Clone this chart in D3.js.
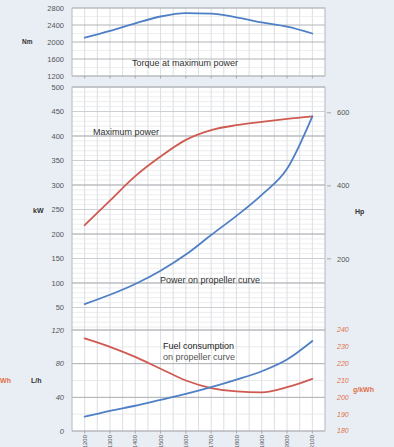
<!DOCTYPE html>
<html>
<head>
<meta charset="utf-8">
<script src="https://cdn.jsdelivr.net/npm/d3@7"></script>
<style>
  html, body { margin: 0; padding: 0; background: #e9eef4; }
  svg { display: block; font-family: "Liberation Sans", Arial, sans-serif; }
</style>
</head>
<body>
<svg id="chart" width="394" height="447"></svg>
<script>
// Engine speed (rpm)
const rpm = [1200, 1300, 1400, 1500, 1600, 1700, 1800, 1900, 2000, 2100];
// Torque at maximum power (Nm)
const torqueNm = [2100, 2260, 2440, 2600, 2680, 2670, 2580, 2460, 2360, 2200];
// Maximum power (kW)
const maxPowerKw = [218, 268, 318, 358, 392, 412, 422, 429, 435, 440];
// Power on propeller curve (kW)
const propPowerKw = [57, 76, 98, 125, 158, 198, 237, 280, 333, 440];
// Fuel consumption on propeller curve (L/h)
const fuelLh = [17, 24, 30, 37, 44, 52, 61, 71, 85, 107];
// Specific fuel consumption (g/kWh)
const sfcGkwh = [235, 230, 224, 217, 210, 205.5, 203.5, 203, 206, 211];

// Tick values
const torqueTicks = [1200, 1600, 2000, 2400, 2800];
const kwTicks = [50, 100, 150, 200, 250, 300, 350, 400, 450, 500];
const hpTicks = [200, 400, 600];
const fuelTicks = [0, 40, 80, 120];
const sfcTicks = [180, 190, 200, 210, 220, 230, 240];

const KW_TO_HP = 1.341;

const svg = d3.select("#chart");
const blue = "#4f7fc4";
const red = "#cf5a52";
const axisRed = "#e0704a";
const labelGrey = "#555";

const x = d3.scaleLinear().domain([1150, 2150]).range([72, 325]);
const left = 72, right = 325;

// Panels
const yT = d3.scaleLinear().domain([1200, 2800]).range([76, 8]);
const yP = d3.scaleLinear().domain([0, 500]).range([332, 87]);
const yF = d3.scaleLinear().domain([0, 120]).range([431, 330]);
const yS = d3.scaleLinear().domain([180, 240]).range([431, 330]);

function panelFrame(top, bottom) {
  svg.append("rect")
    .attr("x", left).attr("y", top)
    .attr("width", right - left).attr("height", bottom - top)
    .attr("fill", "#fff");
}
function vGrid(top, bottom) {
  const g = svg.append("g");
  d3.range(1150, 2151, 50).forEach(v => {
    g.append("line")
      .attr("x1", x(v)).attr("x2", x(v))
      .attr("y1", top).attr("y2", bottom)
      .attr("stroke", "#d3d6da").attr("stroke-width", 0.8);
  });
}
function hGrid(scale, values, color, width) {
  const g = svg.append("g");
  values.forEach(v => {
    g.append("line")
      .attr("x1", left).attr("x2", right)
      .attr("y1", scale(v)).attr("y2", scale(v))
      .attr("stroke", color).attr("stroke-width", width);
  });
}
function border(top, bottom) {
  svg.append("rect")
    .attr("x", left).attr("y", top)
    .attr("width", right - left).attr("height", bottom - top)
    .attr("fill", "none").attr("stroke", "#b9bcc0").attr("stroke-width", 0.8);
}
function xTicks(bottom) {
  const g = svg.append("g");
  rpm.forEach(v => {
    g.append("line")
      .attr("x1", x(v)).attr("x2", x(v))
      .attr("y1", bottom).attr("y2", bottom + 2.5)
      .attr("stroke", "#999").attr("stroke-width", 0.8);
  });
}

// ---- Top panel: torque ----
panelFrame(yT(2800), yT(1200));
vGrid(yT(2800), yT(1200));
hGrid(yT, [1400, 1800, 2200, 2600], "#e2e4e7", 0.6);
hGrid(yT, torqueTicks, "#a9acb0", 0.9);
border(yT(2800), yT(1200));

// ---- Middle panel: power ----
panelFrame(yP(500), yP(0));
vGrid(yP(500), yP(0));
hGrid(yP, d3.range(0, 501, 10), "#dfe1e4", 0.6);
hGrid(yP, d3.range(50, 501, 100), "#c4c7cb", 0.8);
hGrid(yP, d3.range(100, 501, 100), "#a3a6aa", 1);
border(yP(500), yP(0));

// ---- Bottom panel: fuel ----
panelFrame(yF(120), yF(0));
vGrid(yF(120), yF(0));
hGrid(yF, [20, 60, 100], "#dfe1e4", 0.7);
hGrid(yF, fuelTicks, "#a9acb0", 1);
border(yF(120), yF(0));
xTicks(yT(1200));
xTicks(yF(0));

// Left axes
function leftLabels(scale, values, color, italic) {
  svg.append("g").selectAll("text").data(values).join("text")
    .attr("x", 64).attr("y", d => scale(d))
    .attr("dy", "0.35em")
    .attr("text-anchor", "end")
    .attr("font-size", 7.5)
    .attr("font-style", italic ? "italic" : null)
    .attr("fill", color)
    .text(d => d);
}
leftLabels(yT, torqueTicks, labelGrey);
leftLabels(yP, kwTicks, labelGrey);
leftLabels(yF, fuelTicks, labelGrey, true);

// Right axis: horsepower
const hpG = svg.append("g");
hpTicks.forEach(h => {
  const yy = yP(h / KW_TO_HP);
  hpG.append("line").attr("x1", 327).attr("x2", 331)
    .attr("y1", yy).attr("y2", yy).attr("stroke", "#999").attr("stroke-width", 0.8);
  hpG.append("text").attr("x", 337).attr("y", yy).attr("dy", "0.35em")
    .attr("font-size", 7.5).attr("fill", labelGrey).text(h);
});

// Right axis: specific consumption
svg.append("g").selectAll("text").data(sfcTicks).join("text")
  .attr("x", 337).attr("y", d => yS(d)).attr("dy", "0.35em")
  .attr("font-size", 7).attr("font-style", "italic")
  .attr("fill", axisRed).text(d => d);

// Axis unit labels
const unit = (tx, ty, t, color, size) => svg.append("text")
  .attr("x", tx).attr("y", ty).attr("dy", "0.35em")
  .attr("font-size", size || 7).attr("font-weight", "bold")
  .attr("fill", color).text(t);
unit(22, yT(2000), "Nm", "#333", 6.5);
unit(33, 211, "kW", "#333");
unit(355, 212, "Hp", "#333");
unit(31, 381, "L/h", "#333");
unit(353, 390, "g/kWh", axisRed);
svg.append("text").attr("x", 11).attr("y", 381).attr("dy", "0.35em")
  .attr("text-anchor", "end").attr("font-size", 7).attr("font-weight", "bold")
  .attr("fill", axisRed).text("g/kWh");

// X tick labels (rotated)
svg.append("g").selectAll("text").data(rpm).join("text")
  .attr("transform", d => `translate(${x(d)},435) rotate(-90)`)
  .attr("text-anchor", "end")
  .attr("dy", "0.35em")
  .attr("font-size", 6)
  .attr("fill", labelGrey)
  .text(d => d);

// Curves
function curve(scale, values, color) {
  const line = d3.line()
    .x((d, i) => x(rpm[i]))
    .y(d => scale(d))
    .curve(d3.curveMonotoneX);
  svg.append("path").datum(values)
    .attr("d", line)
    .attr("fill", "none")
    .attr("stroke", color)
    .attr("stroke-width", 1.8)
    .attr("stroke-linecap", "round");
}
curve(yT, torqueNm, blue);
curve(yP, maxPowerKw, red);
curve(yP, propPowerKw, blue);
curve(yS, sfcGkwh, red);
curve(yF, fuelLh, blue);

// Annotations
const note = (tx, ty, t, color) => svg.append("text")
  .attr("x", tx).attr("y", ty)
  .attr("font-size", 9).attr("fill", color || "#333").text(t);
note(132, 66, "Torque at maximum power");
note(93, 135, "Maximum power");
note(160, 283, "Power on propeller curve");
note(163, 349, "Fuel consumption", "#222");
note(163, 360, "on propeller curve", "#555");
</script>
</body>
</html>
